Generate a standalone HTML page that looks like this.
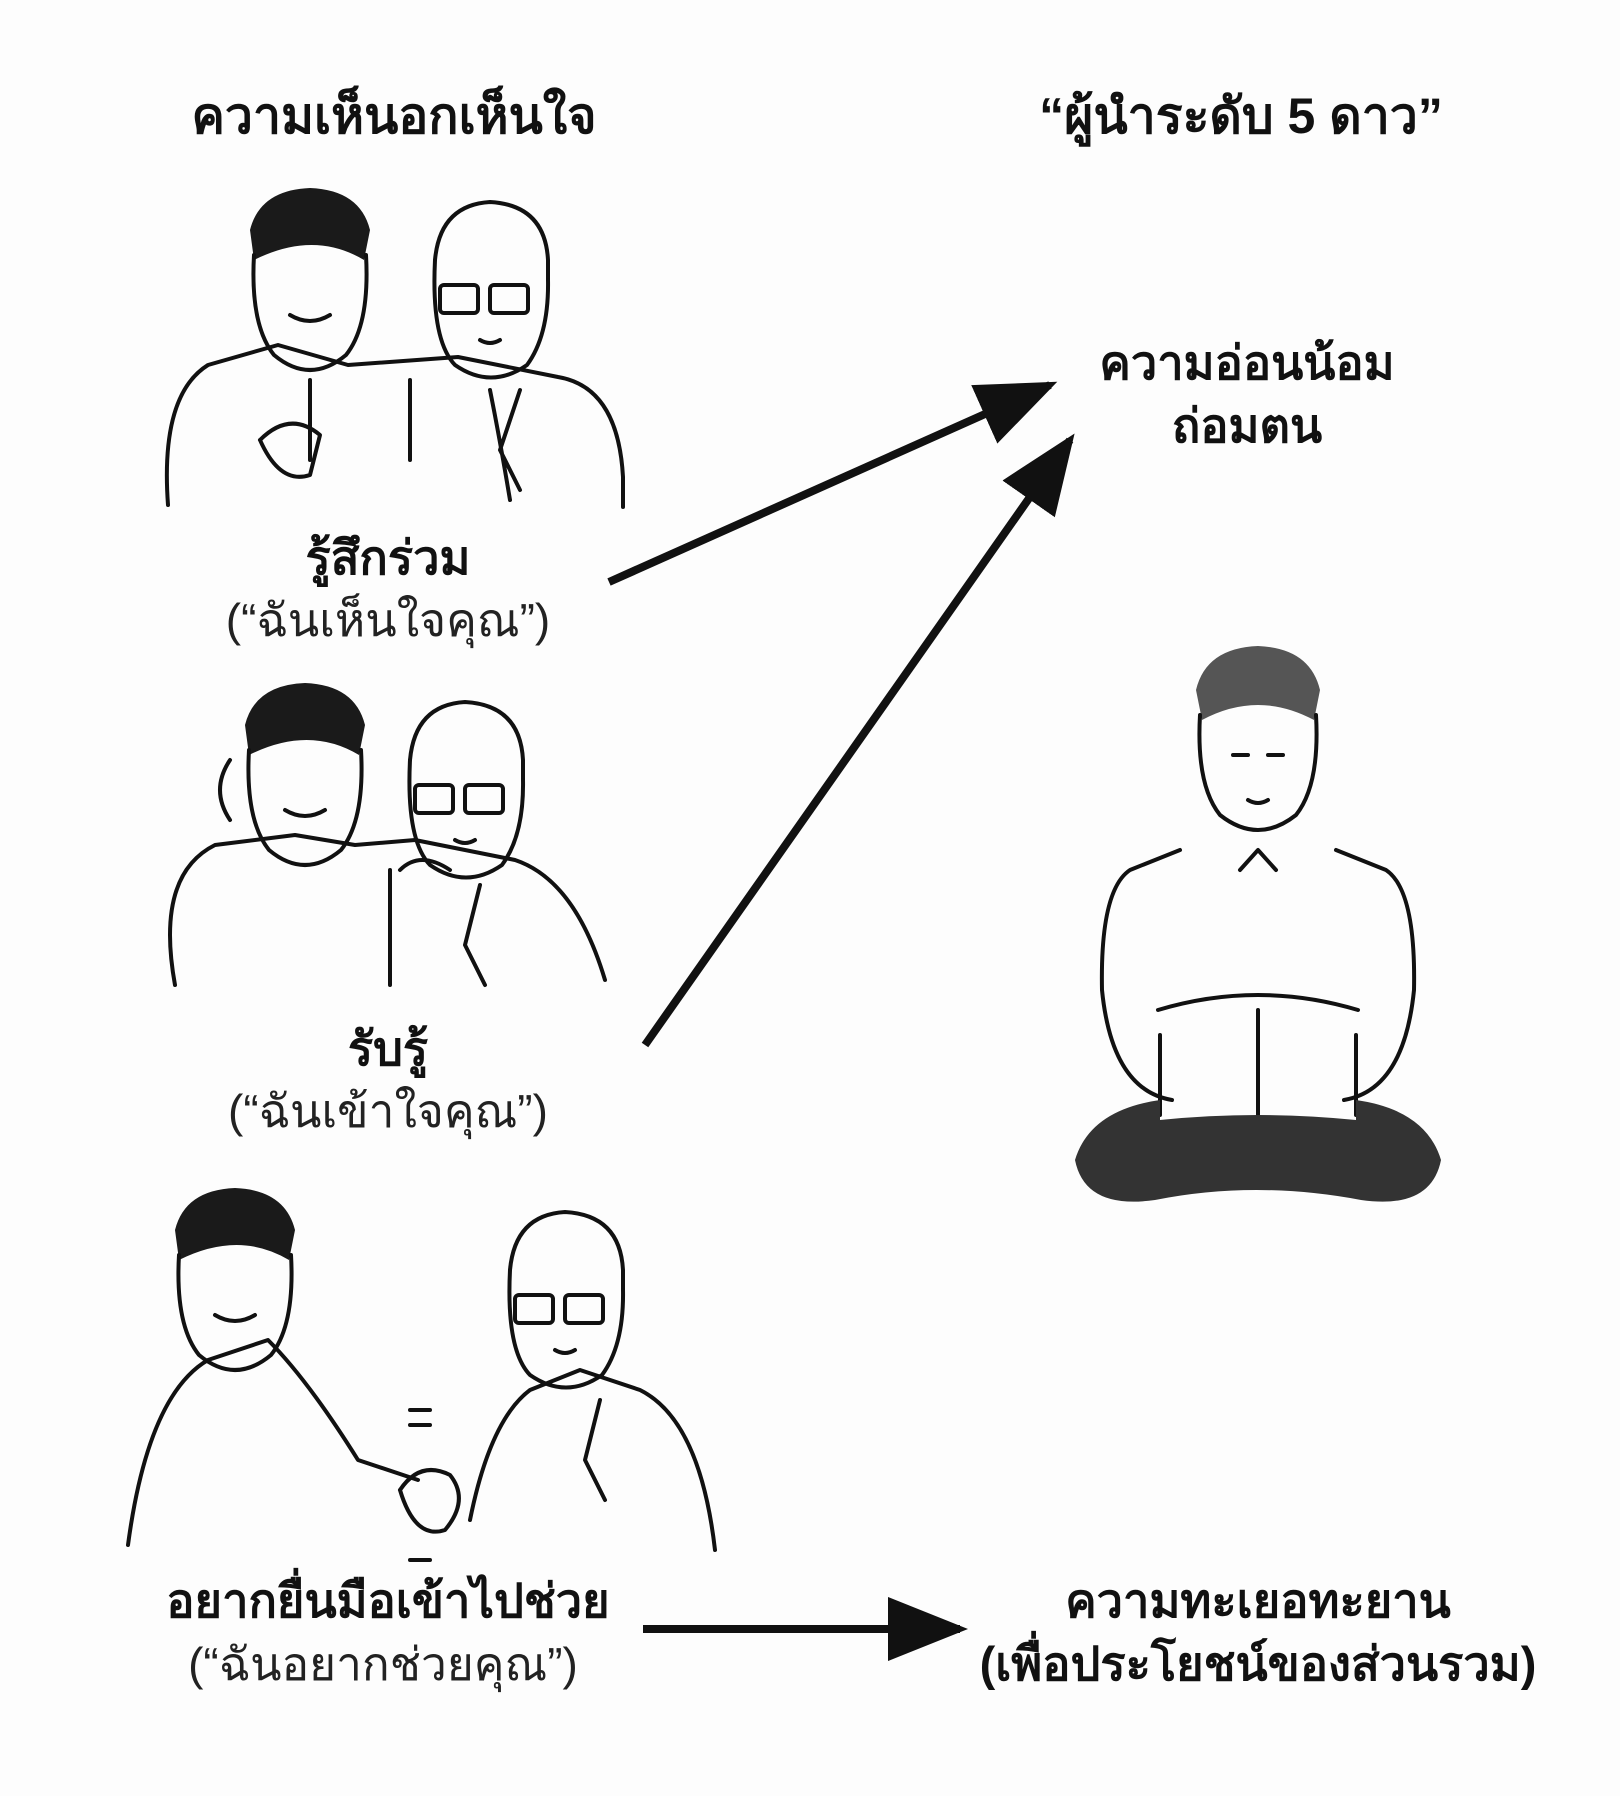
<!DOCTYPE html>
<html><head><meta charset="utf-8"><style>
body{margin:0;background:#fdfdfd;}
svg{display:block}
text{font-family:"Liberation Sans","Noto Sans CJK SC","WenQuanYi Zen Hei",sans-serif;text-anchor:middle;fill:#111}
.t{font-weight:bold;font-size:50px}
.b{font-weight:bold;font-size:47px}
.l{font-size:46px;fill:#222}
.ln{fill:none;stroke:#111;stroke-width:4;stroke-linecap:round;stroke-linejoin:round}
.hair{fill:#1a1a1a}
</style></head><body>
<svg width="1620" height="1796" viewBox="0 0 1620 1796">
<defs>
<marker id="ah" markerWidth="10" markerHeight="8" refX="9" refY="4" orient="auto" markerUnits="strokeWidth">
<path d="M0,0 L10,4 L0,8 z" fill="#111"/></marker>
<g id="man1">
<path class="hair" d="M-60,-70 q10,-40 60,-42 q50,2 60,42 l-6,30 q-50,-30 -110,0 z"/>
<path class="ln" d="M-56,-45 q-4,70 20,100 q36,30 72,0 q24,-30 20,-100"/>
<path class="ln" d="M-20,15 q20,12 40,0"/>
</g>
<g id="man2">
<path class="ln" d="M-55,-50 q5,-55 55,-58 q55,3 58,58 l0,20"/>
<path class="ln" d="M-55,-50 q-4,80 20,105 q36,25 72,0 q22,-30 21,-85"/>
<rect class="ln" x="-50" y="-25" width="38" height="28" rx="4"/>
<rect class="ln" x="0" y="-25" width="38" height="28" rx="4"/>
<path class="ln" d="M-10,30 q10,6 20,0"/>
</g>
</defs>

<text class="t" x="394" y="133">ความเห็นอกเห็นใจ</text>
<text class="t" x="1241" y="133">“ผู้นำระดับ 5 ดาว”</text>

<g transform="translate(310,300)"><use href="#man1"/></g>
<g transform="translate(490,310)"><use href="#man2"/></g>
<path class="ln" d="M168,505 q-8,-110 40,-140 l70,-20 l70,20 l110,-8 l100,20 q60,10 65,100 l0,30"/>
<path class="ln" d="M260,440 q30,-30 60,-5 l-10,40 q-30,10 -50,-35"/>
<path class="ln" d="M310,380 l0,80 M410,380 l0,80 M490,390 q10,50 20,110 M520,390 l-20,60 l20,40"/>

<g transform="translate(305,795)"><use href="#man1"/></g>
<g transform="translate(465,810)"><use href="#man2"/></g>
<path class="ln" d="M175,985 q-20,-110 40,-140 l80,-10 l60,10 l60,-5 l100,20 q60,20 90,120"/>
<path class="ln" d="M230,760 q-20,30 0,60 M400,870 q20,-20 50,0 M390,870 l0,115 M480,885 l-15,60 l20,40"/>

<g transform="translate(235,1300)"><use href="#man1"/></g>
<g transform="translate(565,1320)"><use href="#man2"/></g>
<path class="ln" d="M128,1545 q20,-150 80,-185 l60,-20 q40,40 90,120 l60,20"/>
<path class="ln" d="M470,1520 q20,-100 60,-130 l50,-20 l60,20 q60,30 75,160"/>
<path class="ln" d="M400,1490 q20,-30 50,-15 q20,25 -5,55 q-30,10 -45,-40 M410,1410 l20,0 M410,1425 l20,0 M410,1560 l20,0"/>
<path class="ln" d="M600,1400 l-15,60 l20,40"/>

<g transform="translate(1258,760)">
<path d="M-62,-70 q10,-42 62,-44 q52,2 62,44 l-6,30 q-56,-30 -112,0 z" style="fill:#555"/>
<path class="ln" d="M-58,-45 q-4,70 20,100 q38,30 76,0 q24,-30 20,-100"/>
<path class="ln" d="M-25,-5 l15,0 M10,-5 l15,0 M-10,40 q10,6 20,0"/>
</g>
<path class="ln" d="M1180,850 l-50,20 q-30,20 -28,120 q10,100 70,110 M1336,850 l50,20 q30,20 28,120 q-10,100 -70,110"/>
<path class="ln" d="M1158,1010 q100,-30 200,0 M1258,1010 l0,110 M1160,1035 l0,80 M1356,1035 l0,80 M1240,870 l18,-20 l18,20"/>
<path d="M1160,1100 q-70,10 -85,60 q10,50 80,40 q100,-20 206,0 q70,10 80,-40 q-15,-50 -85,-60 l0,20 q-98,-10 -196,0 z" fill="#333"/>

<text class="b" x="388" y="574">รู้สึกร่วม</text>
<text class="l" x="388" y="636">(“ฉันเห็นใจคุณ”)</text>
<text class="b" x="388" y="1065">รับรู้</text>
<text class="l" x="388" y="1127">(“ฉันเข้าใจคุณ”)</text>
<text class="b" x="388" y="1617">อยากยื่นมือเข้าไปช่วย</text>
<text class="l" x="383" y="1680">(“ฉันอยากช่วยคุณ”)</text>

<text class="b" x="1247" y="379">ความอ่อนน้อม</text>
<text class="b" x="1247" y="442">ถ่อมตน</text>
<text class="b" x="1258" y="1617">ความทะเยอทะยาน</text>
<text class="b" x="1258" y="1680">(เพื่อประโยชน์ของส่วนรวม)</text>

<g stroke="#111" stroke-width="8" fill="none">
<line x1="609" y1="582" x2="1050" y2="385" marker-end="url(#ah)"/>
<line x1="645" y1="1045" x2="1070" y2="440" marker-end="url(#ah)"/>
<line x1="643" y1="1629" x2="960" y2="1629" marker-end="url(#ah)"/>
</g>
</svg>
</body></html>
